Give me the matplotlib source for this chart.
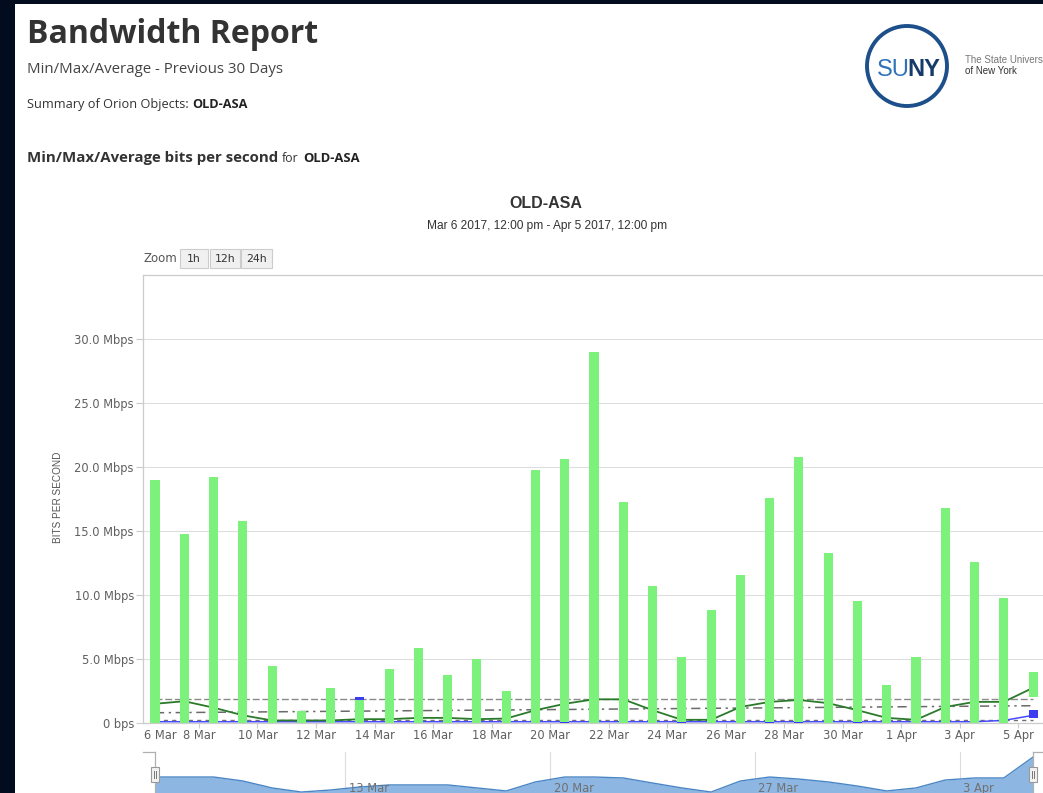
"""Bandwidth report for OLD-ASA: min/max columns, averages and navigator, 30 days."""

import matplotlib

matplotlib.use("Agg")

import matplotlib.dates as mdates
import matplotlib.pyplot as plt
import pandas as pd
from matplotlib.patches import Ellipse, Rectangle
from matplotlib.transforms import blended_transform_factory

FIG_W, FIG_H = 1043, 793
OUTPUT_PNG = "out.png"

# --- data ---------------------------------------------------------------
SAMPLE_DATES = pd.date_range("2017-03-06 12:00", "2017-04-05 12:00", freq="D")

RX_MAX_MBPS = [19.0, 14.8, 19.2, 15.8, 4.45, 0.94, 2.73, 1.8, 4.2, 5.85, 3.75,
               5.0, 2.5, 19.75, 20.6, 29.0, 17.3, 10.7, 5.15, 8.8, 11.55, 17.6,
               20.8, 13.3, 9.5, 2.97, 5.15, 16.8, 12.6, 9.8, 4.0]
RX_MIN_MBPS = [0.0, 0.0, 0.0, 0.0, 0.0, 0.0, 0.0, 0.0, 0.0, 0.0, 0.0,
               0.0, 0.0, 0.0, 0.1, 0.0, 0.0, 0.0, 0.1, 0.0, 0.0, 0.1,
               0.1, 0.0, 0.1, 0.0, 0.0, 0.0, 0.0, 0.0, 2.0]
TX_MAX_MBPS = [0.15, 0.15, 0.15, 0.15, 0.15, 0.15, 0.15, 2.0, 0.15, 0.15, 0.15,
               0.15, 0.15, 0.15, 0.15, 0.15, 0.15, 0.15, 0.15, 0.15, 0.15, 0.15,
               0.15, 0.15, 0.15, 0.15, 0.15, 0.15, 0.15, 0.2, 1.0]
TX_MIN_MBPS = [0.0, 0.0, 0.0, 0.0, 0.0, 0.0, 0.0, 0.0, 0.0, 0.0, 0.0,
               0.0, 0.0, 0.0, 0.0, 0.0, 0.0, 0.0, 0.0, 0.0, 0.0, 0.0,
               0.0, 0.0, 0.0, 0.0, 0.0, 0.0, 0.0, 0.0, 0.4]
RX_AVG_MBPS = [1.5, 1.7, 1.2, 0.6, 0.2, 0.2, 0.2, 0.3, 0.3, 0.4, 0.4,
               0.3, 0.35, 1.0, 1.5, 1.85, 1.85, 1.0, 0.25, 0.25, 1.25, 1.65,
               1.8, 1.55, 1.0, 0.4, 0.25, 1.25, 1.65, 1.65, 2.75]
TX_AVG_MBPS = [0.1, 0.1, 0.1, 0.1, 0.1, 0.1, 0.1, 0.1, 0.1, 0.1, 0.1,
               0.1, 0.1, 0.1, 0.1, 0.1, 0.1, 0.1, 0.1, 0.1, 0.1, 0.1,
               0.1, 0.1, 0.1, 0.1, 0.1, 0.1, 0.1, 0.2, 0.6]
RX_95TH_MBPS = 1.91
TX_95TH_MBPS = 0.2
TREND_MBPS = [0.8, 1.35]
NAVIGATOR_VALUES = [1.17, 1.17, 1.17, 0.88, 0.37, 0.07, 0.22, 0.44, 0.59, 0.59, 0.59,
                    0.37, 0.15, 0.81, 1.17, 1.17, 1.10, 0.73, 0.37, 0.07, 0.88, 1.17,
                    1.02, 0.81, 0.51, 0.15, 0.37, 0.95, 1.10, 1.10, 2.63]

Y_TICKS_MBPS = [0, 5, 10, 15, 20, 25, 30]
Y_TICK_LABELS = ["0 bps", "5.0 Mbps", "10.0 Mbps", "15.0 Mbps",
                 "20.0 Mbps", "25.0 Mbps", "30.0 Mbps"]
X_TICK_DATES = ["2017-03-08", "2017-03-10", "2017-03-12", "2017-03-14",
                "2017-03-16", "2017-03-18", "2017-03-20", "2017-03-22",
                "2017-03-24", "2017-03-26", "2017-03-28", "2017-03-30",
                "2017-04-01", "2017-04-03", "2017-04-05"]
X_TICK_LABELS = ["8 Mar", "10 Mar", "12 Mar", "14 Mar", "16 Mar", "18 Mar",
                 "20 Mar", "22 Mar", "24 Mar", "26 Mar", "28 Mar", "30 Mar",
                 "1 Apr", "3 Apr", "5 Apr"]
FIRST_X_LABEL = "6 Mar"
NAV_TICK_DATES = ["2017-03-13", "2017-03-20", "2017-03-27", "2017-04-03"]
NAV_TICK_LABELS = ["13 Mar", "20 Mar", "27 Mar", "3 Apr"]
ZOOM_BUTTONS = ["1h", "12h", "24h"]

# --- styling ---------------------------------------------------------------
NAVY_FRAME = "#020c1e"
RX_COLOR = "#7cf27c"
TX_COLOR = "#3c3cf0"
RX_AVG_COLOR = "#2b7a2b"
TX_AVG_COLOR = "#4a4aff"
GRID_COLOR = "#dedede"
AXIS_COLOR = "#cccccc"
LABEL_COLOR = "#606060"
NAV_FILL = "#8db7e2"
NAV_LINE = "#4a86c5"
TICK_FONT = 8.3


def fx(px: float) -> float:
    """Pixel column -> figure fraction."""
    return px / FIG_W


def fy(py: float) -> float:
    """Pixel row (from top) -> figure fraction."""
    return 1.0 - py / FIG_H


def text_after(fig, prev, text, gap_px, **kwargs):
    """Put a text right after another one on the same baseline."""
    renderer = fig.canvas.get_renderer()
    bbox = prev.get_window_extent(renderer)
    x_fig = fig.transFigure.inverted().transform((bbox.x1 + gap_px, 0))[0]
    return fig.text(x_fig, prev.get_position()[1], text, va="baseline", **kwargs)


def draw_header(fig):
    """Report header, logo and chart titles."""
    fig.text(fx(27), fy(43), "Bandwidth Report", family="Open Sans",
             weight="bold", fontsize=23, color="#333333", va="baseline")
    fig.text(fx(27), fy(73), "Min/Max/Average - Previous 30 Days",
             family="Open Sans", fontsize=10.8, color="#444444", va="baseline")

    summary = fig.text(fx(27), fy(108), "Summary of Orion Objects:",
                       family="Open Sans", fontsize=9.2, color="#333333",
                       va="baseline")
    section = fig.text(fx(27), fy(162), "Min/Max/Average bits per second",
                       family="Open Sans", weight="bold", fontsize=10.85,
                       color="#333333", va="baseline")
    fig.canvas.draw()
    text_after(fig, summary, "OLD-ASA", 3.5, family="Open Sans", weight="bold",
               fontsize=9.2, color="#222222")
    word_for = text_after(fig, section, "for", 4, family="Open Sans",
                          fontsize=8.8, color="#333333")
    fig.canvas.draw()
    text_after(fig, word_for, "OLD-ASA", 4, family="Open Sans", weight="bold",
               fontsize=9.4, color="#222222")

    # SUNY logo
    fig.add_artist(Ellipse((fx(907), fy(66)), width=80 / FIG_W, height=80 / FIG_H,
                           fill=False, edgecolor="#1d4f8b", linewidth=2.8,
                           transform=fig.transFigure))
    fig.text(fx(909.5), fy(76), "SU", family="Liberation Sans", fontsize=17,
             color="#2f72b8", ha="right", va="baseline")
    fig.text(fx(907), fy(76), "NY", family="Liberation Sans", weight="bold",
             fontsize=17, color="#163a6a", ha="left", va="baseline")
    fig.text(fx(965), fy(63), "The State Univers", family="Liberation Sans",
             fontsize=7, color="#777777", va="baseline")
    fig.text(fx(965), fy(74), "of New York", family="Liberation Sans",
             fontsize=7, color="#333333", va="baseline")

    fig.text(fx(546), fy(203), "OLD-ASA", family="Liberation Sans",
             weight="bold", fontsize=11.5, color="#333333",
             ha="center", va="center")
    fig.text(fx(547), fy(226), "Mar 6 2017, 12:00 pm - Apr 5 2017, 12:00 pm",
             family="Liberation Sans", fontsize=8.6, color="#333333",
             ha="center", va="center")


def draw_zoom_buttons(fig):
    """Range selector: 'Zoom' label and the three buttons."""
    fig.text(fx(143), fy(258), "Zoom", fontsize=8.5, color="#555555",
             va="center")
    boxes = [(180, 208), (210, 240), (241, 272)]
    for label, (left, right) in zip(ZOOM_BUTTONS, boxes):
        fig.add_artist(Rectangle((fx(left), fy(268)), fx(right) - fx(left),
                                 fy(249) - fy(268), facecolor="#f0f0f0",
                                 edgecolor="#cccccc", linewidth=0.8,
                                 transform=fig.transFigure))
        fig.text((fx(left) + fx(right)) / 2, fy(258.5), label, fontsize=7.8,
                 color="#333333", ha="center", va="center")


def draw_main_chart(fig, x_values, xlim):
    """Min/max columns with average, 95th and trend lines."""
    ax = fig.add_axes([fx(143), fy(723), fx(1043) - fx(143), fy(275) - fy(723)])
    ax.set_facecolor("white")

    bar_width = 0.31
    rx_heights = [hi - lo for hi, lo in zip(RX_MAX_MBPS, RX_MIN_MBPS)]
    tx_heights = [hi - lo for hi, lo in zip(TX_MAX_MBPS, TX_MIN_MBPS)]
    ax.bar(x_values, tx_heights, bottom=TX_MIN_MBPS, width=bar_width,
           color=TX_COLOR, zorder=3)
    ax.bar(x_values, rx_heights, bottom=RX_MIN_MBPS, width=bar_width,
           color=RX_COLOR, zorder=4)

    ax.hlines(RX_95TH_MBPS, x_values[0], x_values[-1], colors="#8a8a8a",
              linewidth=1.0, linestyles=(0, (5, 2)), zorder=2)
    ax.hlines(TX_95TH_MBPS, x_values[0], x_values[-1], colors="#707070",
              linewidth=1.0, linestyles=(0, (3, 3)), zorder=2)
    ax.plot([x_values[0], x_values[-1]], TREND_MBPS, color="#6a6a6a",
            linewidth=1.1, linestyle=(0, (6, 3, 1.5, 3)), zorder=2)
    ax.plot(x_values, TX_AVG_MBPS, color=TX_AVG_COLOR, linewidth=1.1, zorder=2)
    ax.plot(x_values, RX_AVG_MBPS, color=RX_AVG_COLOR, linewidth=1.3, zorder=2)

    ax.set_xlim(*xlim)
    ax.set_ylim(0, 35)
    ax.set_yticks(Y_TICKS_MBPS)
    ax.set_yticklabels(Y_TICK_LABELS)
    ax.set_xticks(mdates.date2num(pd.to_datetime(X_TICK_DATES)))
    ax.set_xticklabels(X_TICK_LABELS)
    ax.tick_params(axis="y", length=5, width=0.8, color=AXIS_COLOR, pad=1.5,
                   labelsize=TICK_FONT, labelcolor=LABEL_COLOR)
    ax.tick_params(axis="x", length=3.6, width=0.8, color=AXIS_COLOR, pad=0.5,
                   labelsize=TICK_FONT, labelcolor=LABEL_COLOR)
    ax.annotate(FIRST_X_LABEL, xy=(0, 0), xycoords="axes fraction",
                xytext=(1, -4.1), textcoords="offset points", ha="left",
                va="top", fontsize=TICK_FONT, color=LABEL_COLOR)

    ax.grid(axis="y", color=GRID_COLOR, linewidth=0.8, zorder=0)
    ax.set_axisbelow(True)
    for side in ("left", "top", "bottom"):
        ax.spines[side].set_color(AXIS_COLOR)
        ax.spines[side].set_linewidth(0.9)
    ax.spines["right"].set_visible(False)

    fig.text(fx(58), fy(497), "BITS PER SECOND", family="Liberation Sans",
             fontsize=7.2, color="#555555", rotation=90, ha="center", va="center")
    return ax


def draw_navigator(fig, x_values, xlim):
    """Navigator strip at the bottom with its handles."""
    nav = fig.add_axes([fx(143), fy(793), fx(1043) - fx(143), fy(752) - fy(793)])
    nav.set_facecolor("none")
    nav.set_xlim(*xlim)
    nav.set_ylim(0, 3.0)
    for spine in nav.spines.values():
        spine.set_visible(False)
    nav.set_xticks([])
    nav.set_yticks([])

    nav.fill_between(x_values, NAVIGATOR_VALUES, 0, color=NAV_FILL, zorder=2,
                     linewidth=0)
    nav.plot(x_values, NAVIGATOR_VALUES, color=NAV_LINE, linewidth=1.0, zorder=3)

    blend = blended_transform_factory(nav.transData, nav.transAxes)
    for date, label in zip(mdates.date2num(pd.to_datetime(NAV_TICK_DATES)),
                           NAV_TICK_LABELS):
        nav.plot([date, date], [0, 1], transform=blend, color="#dcdcdc",
                 linewidth=0.8, zorder=1)
        nav.annotate(label, xy=(date, 0.12), xycoords=blend, xytext=(2.5, 0),
                     textcoords="offset points", ha="left", va="center",
                     fontsize=TICK_FONT, color="#707070", zorder=4)

    # outline around the selected range
    first, last = x_values[0], x_values[-1]
    outline = dict(transform=blend, color="#b0b0b0", linewidth=0.9, zorder=4,
                   clip_on=False)
    nav.plot([xlim[0], first], [0.99, 0.99], **outline)
    nav.plot([first, first], [0.99, 0.0], **outline)
    nav.plot([last, last], [0.99, 0.0], **outline)
    nav.plot([last, xlim[1]], [0.99, 0.99], **outline)

    handle_w = 0.27
    for centre in (first, last):
        nav.add_patch(Rectangle((centre - handle_w / 2, 0.27), handle_w, 0.36,
                                transform=blend, facecolor="#f2f2f2",
                                edgecolor="#999999", linewidth=0.8, zorder=5,
                                clip_on=False))
        for shift in (-0.045, 0.045):
            nav.plot([centre + shift, centre + shift], [0.36, 0.54],
                     transform=blend, color="#777777", linewidth=0.7,
                     zorder=6, clip_on=False)
    return nav


def main() -> None:
    plt.rcParams["font.family"] = "DejaVu Sans"
    plt.rcParams["axes.unicode_minus"] = False

    fig = plt.figure(figsize=(FIG_W / 100, FIG_H / 100), dpi=100)
    fig.patch.set_facecolor(NAVY_FRAME)
    fig.add_artist(Rectangle((fx(15), 0), 1 - fx(15), fy(4), facecolor="white",
                             edgecolor="none", transform=fig.transFigure,
                             zorder=-5))

    x_values = mdates.date2num(SAMPLE_DATES)
    xlim = (x_values[0] - 0.41, x_values[-1] + 0.34)

    draw_main_chart(fig, x_values, xlim)
    draw_navigator(fig, x_values, xlim)
    draw_zoom_buttons(fig)
    draw_header(fig)

    fig.savefig(OUTPUT_PNG, dpi=100, facecolor=fig.get_facecolor())
    plt.close(fig)


if __name__ == "__main__":
    main()
